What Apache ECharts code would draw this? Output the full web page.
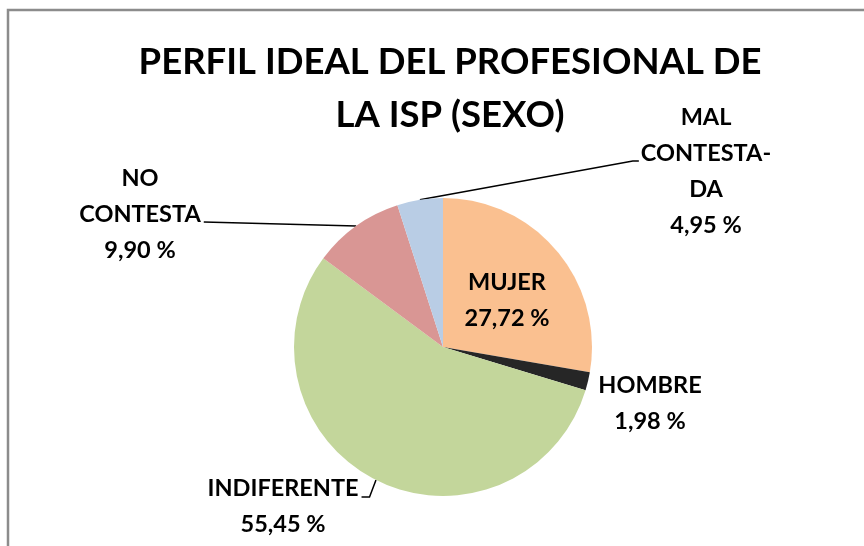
<!DOCTYPE html>
<html>
<head>
<meta charset="utf-8">
<script src="https://cdn.jsdelivr.net/npm/echarts@6/dist/echarts.min.js"></script>
<style>html,body{margin:0;padding:0;background:#fff;}#c{width:864px;height:546px;}</style>
</head>
<body>
<div id="c"></div>
<script>
const titleText = 'PERFIL IDEAL DEL PROFESIONAL DE\nLA ISP (SEXO)';
const categories = ['MUJER', 'HOMBRE', 'INDIFERENTE', 'NO CONTESTA', 'MAL CONTESTADA'];
const values = [27.72, 1.98, 55.45, 9.90, 4.95];
const labelNames = ['MUJER', 'HOMBRE', 'INDIFERENTE', 'NO\nCONTESTA', 'MAL\nCONTESTA-\nDA'];
const labelValues = ['27,72 %', '1,98 %', '55,45 %', '9,90 %', '4,95 %'];
const colors = ['#FAC090', '#262626', '#C3D69B', '#D99694', '#B9CDE5'];
const labelPos = [[507, 300], [650, 403], [283, 506], [140, 214], [706, 171]];

const chart = echarts.init(document.getElementById('c'));
const font = 'Lato, "Open Sans", sans-serif';
chart.setOption({
  animation: false,
  backgroundColor: '#fff',
  graphic: [{
    type: 'rect', shape: {x: 8, y: 10, width: 900, height: 600},
    style: {fill: 'none', stroke: '#8c8c8c', lineWidth: 2.5}, silent: true, z: -1
  }],
  title: {
    text: titleText, left: 445, top: 31, textAlign: 'center',
    textStyle: {fontFamily: font, fontWeight: 'bold', fontSize: 36.5, lineHeight: 53, color: '#000'}
  },
  series: [{
    type: 'pie',
    center: [443, 347],
    radius: 149,
    startAngle: 90,
    clockwise: true,
    data: categories.map((c, i) => ({
      name: c, value: values[i],
      itemStyle: {color: colors[i]},
      label: i === 0 ? {position: 'inside'} : {},
      labelLine: {show: i >= 2}
    })),
    label: {
      show: true,
      position: 'outside',
      formatter: p => labelNames[p.dataIndex] + '\n' + labelValues[p.dataIndex],
      fontFamily: font, fontWeight: 'bold', fontSize: 23.5, lineHeight: 36,
      color: '#000', align: 'center'
    },
    labelLine: {lineStyle: {color: '#000', width: 1.5}, smooth: false},
    labelLayout: p => {
      const i = p.dataIndex;
      const [x, y] = labelPos[i];
      const w = p.labelRect.width;
      const out = {x: x, y: y, align: 'center', verticalAlign: 'middle'};
      const lp = p.labelLinePoints;
      if (lp && lp.length) {
        const s = lp[0];
        if (i === 2) {
          const e = [x + w / 2 + 3, y - 9];
          out.labelLinePoints = [s, [e[0] + 8, e[1]], e];
        } else if (i === 3) {
          const e = [x + w / 2 + 3, y + 8];
          out.labelLinePoints = [s, [(s[0] + e[0]) / 2, (s[1] + e[1]) / 2], e];
        } else if (i === 4) {
          const e = [x - w / 2 - 2, y - 10];
          out.labelLinePoints = [s, [e[0] - 6, e[1]], e];
        }
      }
      return out;
    }
  }]
});
</script>
</body>
</html>
